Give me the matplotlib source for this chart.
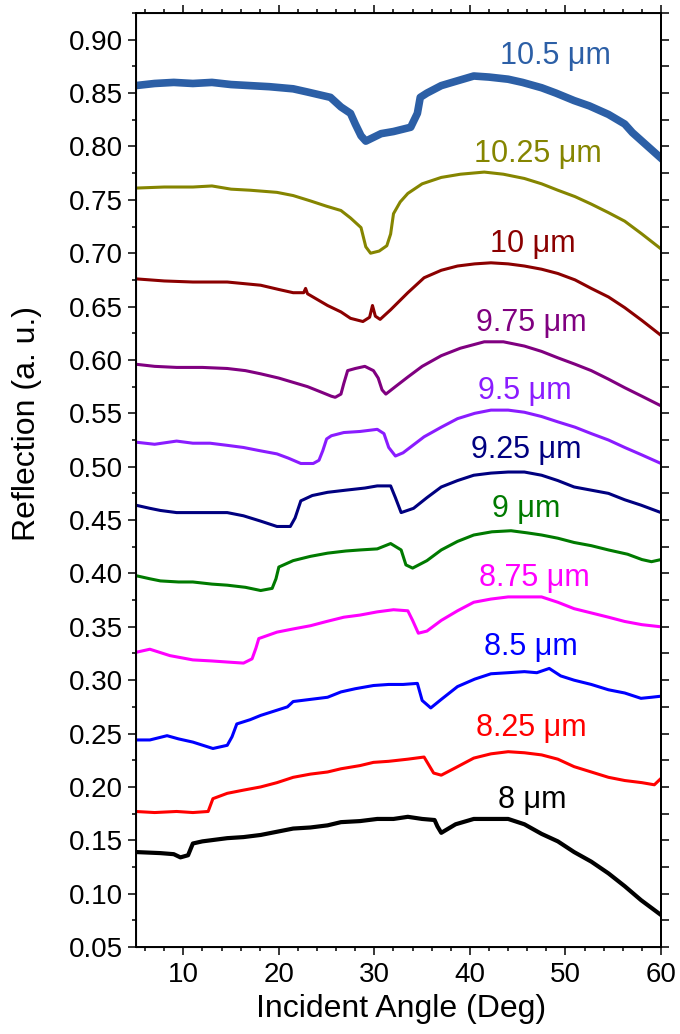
import matplotlib
matplotlib.use('Agg')
import matplotlib.pyplot as plt
from matplotlib.ticker import MultipleLocator

plt.rcParams['font.family'] = ['Liberation Sans', 'DejaVu Sans']

# wavelength labels, colours and curves (angle in deg, reflection in a.u.)
labels = ['10.5 μm', '10.25 μm', '10 μm', '9.75 μm', '9.5 μm', '9.25 μm',
          '9 μm', '8.75 μm', '8.5 μm', '8.25 μm', '8 μm']
colors = ['#2c5fa6', '#858500', '#8b0000', '#800080', '#8a1cff', '#000080',
          '#007a00', '#ff00ff', '#0000ff', '#ff0000', '#000000']
label_x = [49.0, 47.1, 46.6, 46.4, 45.7, 45.9, 45.9, 46.7, 46.4, 46.4, 46.5]
label_y = [0.885, 0.793, 0.709, 0.635, 0.571, 0.516, 0.460, 0.396, 0.331, 0.255, 0.188]

x10_5 = [5, 7, 9, 11, 13, 15, 17, 19, 21.5, 23, 25.4, 26.5, 27.5, 28.0, 28.6, 29.1,
         30.7, 32, 33.8, 34.5, 34.8, 35.5, 37, 38.5, 40.4, 42, 44, 45.5, 47.5, 49,
         50.9, 52.5, 54.5, 56.2, 57, 58, 59, 60]
y10_5 = [0.857, 0.859, 0.860, 0.859, 0.860, 0.858, 0.857, 0.856, 0.854, 0.851, 0.846, 0.837,
         0.831, 0.821, 0.810, 0.805, 0.812, 0.814, 0.818, 0.831, 0.846, 0.850, 0.857, 0.861,
         0.866, 0.865, 0.863, 0.860, 0.855, 0.850, 0.843, 0.838, 0.830, 0.821, 0.813, 0.805,
         0.797, 0.789]

x10_25 = [5, 8, 11, 13, 15, 17, 19.8, 21.5, 23.3, 25, 26.5, 27.5, 28.6, 29.1, 29.6, 30.5,
          31.3, 31.7, 32.0, 32.7, 33.5, 35, 37, 39, 41.5, 43.5, 45.7, 47.5, 49.2, 51, 52.7,
          54.5, 56.2, 58, 60]
y10_25 = [0.761, 0.762, 0.762, 0.763, 0.760, 0.759, 0.757, 0.754, 0.749, 0.744, 0.740, 0.733,
          0.724, 0.706, 0.700, 0.702, 0.707, 0.718, 0.737, 0.748, 0.756, 0.765, 0.771, 0.774,
          0.776, 0.774, 0.770, 0.765, 0.759, 0.753, 0.746, 0.738, 0.730, 0.718, 0.704]

x10 = [5, 8, 11, 14.6, 18.1, 20, 21.5, 22.6, 22.8, 23.0, 25.1, 26.5, 27.5, 28.8, 29.5, 29.8,
       30.1, 30.6, 31.7, 33.5, 35.2, 37, 38.7, 40.5, 42.2, 44, 45.7, 47.5, 49.2, 51, 52.7,
       54.5, 56.2, 58, 60]
y10 = [0.676, 0.674, 0.673, 0.673, 0.670, 0.666, 0.663, 0.663, 0.667, 0.662, 0.651, 0.645,
       0.639, 0.636, 0.640, 0.651, 0.641, 0.638, 0.647, 0.663, 0.677, 0.684, 0.688, 0.690,
       0.691, 0.690, 0.688, 0.685, 0.681, 0.675, 0.667, 0.659, 0.649, 0.637, 0.623]

x9_75 = [5, 7, 9.3, 12, 14.6, 16.5, 18.1, 20, 21.5, 23, 24.4, 25.5, 25.9, 26.5, 26.8, 27.2,
         28, 29, 29.9, 30.4, 30.8, 31.2, 32.2, 33.5, 35, 37, 39, 41.5, 43.5, 45.7, 47.5,
         49.2, 51, 52.7, 54.5, 56.2, 58, 60]
y9_75 = [0.596, 0.594, 0.593, 0.593, 0.592, 0.590, 0.587, 0.583, 0.579, 0.575, 0.570, 0.566,
         0.565, 0.568, 0.578, 0.590, 0.592, 0.594, 0.590, 0.583, 0.572, 0.568, 0.575, 0.584,
         0.594, 0.604, 0.611, 0.617, 0.617, 0.613, 0.608, 0.602, 0.596, 0.590, 0.582, 0.574,
         0.566, 0.557]

x9_5 = [5, 7, 9.3, 11, 12.8, 14.6, 16.3, 18, 19.8, 21, 22.3, 23.6, 24.2, 24.6, 25.0, 25.5,
        26.8, 28.5, 30.3, 31.0, 31.5, 32.2, 33, 35.2, 37, 38.7, 40.5, 42.2, 44, 45.7, 47.5,
        49.2, 51, 52.7, 54.5, 56.2, 58, 60]
y9_5 = [0.523, 0.521, 0.524, 0.522, 0.522, 0.520, 0.518, 0.515, 0.512, 0.508, 0.503, 0.503,
        0.506, 0.515, 0.526, 0.529, 0.532, 0.533, 0.535, 0.531, 0.518, 0.510, 0.513, 0.528,
        0.537, 0.545, 0.550, 0.553, 0.553, 0.551, 0.547, 0.542, 0.537, 0.531, 0.525, 0.518,
        0.511, 0.503]

x9_25 = [5, 6.5, 7.6, 9.3, 12, 14.6, 16.3, 18.1, 19.8, 21.2, 21.7, 22.3, 23.5, 25.1, 27, 29,
         30.3, 31.7, 32.2, 32.8, 34.1, 35.5, 37, 38.7, 40.4, 42.2, 44, 45.7, 47.5, 49.2, 50.9,
         52.7, 54.5, 56.2, 57.9, 60]
y9_25 = [0.464, 0.461, 0.459, 0.457, 0.457, 0.457, 0.454, 0.449, 0.444, 0.444, 0.452, 0.468,
         0.473, 0.476, 0.478, 0.480, 0.482, 0.482, 0.471, 0.457, 0.461, 0.471, 0.481, 0.487,
         0.492, 0.494, 0.495, 0.495, 0.492, 0.487, 0.481, 0.478, 0.475, 0.469, 0.464, 0.457]

x9 = [5, 6.5, 7.6, 9.5, 11, 13, 14.6, 16.5, 18.1, 19.3, 19.7, 20.0, 21.5, 23.3, 25.1, 27,
      28.5, 30.3, 31.7, 32.8, 33.3, 34.0, 35.5, 37, 38.7, 40.4, 42.3, 44.3, 46, 47.5, 49.2,
      50.9, 52.7, 54.5, 56.5, 58, 59, 60]
y9 = [0.398, 0.395, 0.393, 0.392, 0.392, 0.390, 0.389, 0.387, 0.384, 0.386, 0.395, 0.406,
      0.412, 0.416, 0.419, 0.421, 0.422, 0.423, 0.428, 0.422, 0.408, 0.405, 0.412, 0.422,
      0.430, 0.436, 0.439, 0.440, 0.438, 0.436, 0.433, 0.429, 0.426, 0.422, 0.418, 0.413,
      0.411, 0.413]

x8_75 = [5, 6.5, 8.6, 11, 13, 14.6, 16.3, 17.2, 17.6, 17.9, 19.8, 21.5, 23.3, 25, 26.8, 28.5,
         30.3, 32, 33.5, 34.0, 34.6, 35.5, 37, 38.7, 40.4, 42.2, 44, 45.7, 47.5, 49.2, 50.9,
         52.7, 54.5, 56.2, 58, 60]
y8_75 = [0.326, 0.329, 0.323, 0.319, 0.318, 0.317, 0.316, 0.320, 0.330, 0.339, 0.345, 0.348,
         0.351, 0.355, 0.359, 0.361, 0.364, 0.366, 0.365, 0.356, 0.344, 0.346, 0.356, 0.365,
         0.373, 0.376, 0.378, 0.378, 0.378, 0.373, 0.367, 0.363, 0.359, 0.355, 0.352, 0.350]

x8_5 = [5, 6.5, 8.3, 9.5, 11, 13.1, 14.6, 15.1, 15.6, 17, 18.1, 19.5, 20.9, 21.5, 23.3, 25.1,
        26.5, 28, 29.9, 31.5, 33, 34.5, 35.0, 35.9, 37, 38.7, 40.5, 42.2, 44, 45.7, 47, 48.3,
        49.5, 50.9, 52.7, 54.5, 56.2, 57.9, 59, 60]
y8_5 = [0.244, 0.244, 0.248, 0.245, 0.242, 0.236, 0.239, 0.247, 0.259, 0.263, 0.267, 0.271,
        0.275, 0.280, 0.282, 0.284, 0.289, 0.292, 0.295, 0.296, 0.296, 0.297, 0.281, 0.274,
        0.282, 0.294, 0.301, 0.306, 0.307, 0.308, 0.307, 0.311, 0.304, 0.300, 0.296, 0.291,
        0.288, 0.283, 0.284, 0.285]

x8_25 = [5, 7, 9.3, 11, 12.6, 13.1, 14.6, 16.3, 18.1, 19.8, 21.5, 23.3, 25.1, 26.5, 28.5,
         29.9, 31.5, 33.5, 35.2, 36.2, 37, 38.5, 40.4, 42.2, 44, 45.7, 47.5, 49.2, 50.9, 52.7,
         54.5, 56.2, 58, 59.3, 60]
y8_25 = [0.177, 0.176, 0.177, 0.176, 0.177, 0.189, 0.194, 0.197, 0.200, 0.204, 0.209, 0.212,
         0.214, 0.217, 0.220, 0.223, 0.224, 0.226, 0.228, 0.213, 0.211, 0.218, 0.227, 0.231,
         0.233, 0.232, 0.230, 0.226, 0.219, 0.214, 0.209, 0.206, 0.204, 0.202, 0.208]

x8 = [5, 7.6, 9, 9.7, 10.5, 11.0, 12, 14.6, 16.3, 18.1, 19.8, 21.5, 23.3, 25.1, 26.5, 28.5,
      30.3, 32, 33.5, 35, 36.3, 36.6, 37.0, 38.5, 40.4, 42.2, 44, 45.7, 47.5, 49.2, 50.9,
      52.7, 54.5, 56.2, 57.9, 60]
y8 = [0.139, 0.138, 0.137, 0.134, 0.136, 0.147, 0.149, 0.152, 0.153, 0.155, 0.158, 0.161,
      0.162, 0.164, 0.167, 0.168, 0.170, 0.170, 0.172, 0.170, 0.169, 0.163, 0.157, 0.165,
      0.170, 0.170, 0.170, 0.165, 0.156, 0.149, 0.139, 0.130, 0.119, 0.107, 0.094, 0.080]

curves_x = [x10_5, x10_25, x10, x9_75, x9_5, x9_25, x9, x8_75, x8_5, x8_25, x8]
curves_y = [y10_5, y10_25, y10, y9_75, y9_5, y9_25, y9, y8_75, y8_5, y8_25, y8]
widths = [5.5, 2.2, 2.2, 2.2, 2.2, 2.2, 2.2, 2.2, 2.2, 2.2, 3.0]

fig = plt.figure(figsize=(6.8, 10.34), dpi=100)
ax = fig.add_axes([0.1993, 0.0841, 0.7728, 0.9033])

for xs, ys, c, lw in zip(curves_x, curves_y, colors, widths):
    ax.plot(xs, ys, color=c, linewidth=lw, solid_joinstyle='round')

for lab, lx, ly, c in zip(labels, label_x, label_y, colors):
    ax.text(lx, ly, lab, color=c, fontsize=22, ha='center', va='center')

ax.set_xlim(5, 60)
ax.set_ylim(0.05, 0.925)
ax.xaxis.set_major_locator(MultipleLocator(10))
ax.xaxis.set_minor_locator(MultipleLocator(2))
ax.yaxis.set_major_locator(MultipleLocator(0.05))
ax.yaxis.set_minor_locator(MultipleLocator(0.025))
ax.yaxis.set_major_formatter(lambda v, pos: f'{v:.2f}')

for sp in ax.spines.values():
    sp.set_linewidth(1.4)

ax.tick_params(which='both', direction='out', top=True, right=False, width=1.1,
               labelsize=20)
ax.tick_params(which='major', length=6, pad=3)
ax.tick_params(which='minor', length=3)
ax.tick_params(axis='x', which='major', pad=5)

# right side: evenly spaced ticks at every 0.025, no labels
ax2 = ax.twinx()
ax2.set_ylim(ax.get_ylim())
ax2.yaxis.set_major_locator(MultipleLocator(0.025))
ax2.tick_params(direction='out', length=6, width=1.1, labelright=False)
ax2.spines['right'].set_linewidth(1.4)

ax.set_xlabel('Incident Angle (Deg)', fontsize=23)
ax.set_ylabel('Reflection (a. u.)', fontsize=23)
ax.xaxis.set_label_coords(0.505, -0.05)
ax.yaxis.set_label_coords(-0.178, 0.561)

fig.savefig('out.png', dpi=100)
